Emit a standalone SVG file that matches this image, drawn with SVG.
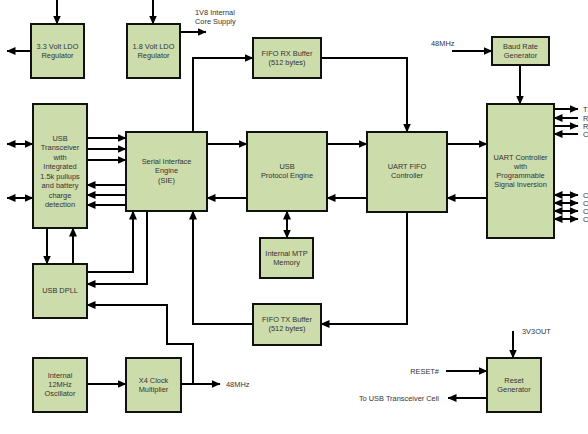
<svg xmlns="http://www.w3.org/2000/svg" width="588" height="434" viewBox="0 0 588 434">
<defs>
<marker id="ah" markerUnits="userSpaceOnUse" markerWidth="9" markerHeight="9" viewBox="0 0 9 9" refX="8.5" refY="4.5" orient="auto-start-reverse">
<path d="M0,0.5 L9,4.5 L0,8.5 z" fill="#000"/>
</marker>
<style>
.b{fill:#cddcab;stroke:#111;stroke-width:2}
.t{font-family:"Liberation Sans",Arial,sans-serif;font-size:7.4px;fill:#333;text-anchor:middle}
.l{font-family:"Liberation Sans",Arial,sans-serif;font-size:7.4px;fill:#333}
.c{fill:none;stroke:#000;stroke-width:2}
.a{marker-end:url(#ah)}
.d{marker-start:url(#ah);marker-end:url(#ah)}
</style>
</defs>
<rect width="588" height="434" fill="#fff"/>
<g id="connectors">
<path class="c a" d="M57,0 V24"/>
<path class="c a" d="M31,51 H7"/>
<path class="c a" d="M153,0 V24"/>
<path class="c a" d="M180,32 H206"/>
<path class="c a" d="M193,132 V58 H253"/>
<path class="c a" d="M321,58 H407 V132"/>
<path class="c a" d="M452,51 H492"/>
<path class="c a" d="M520,65 V104"/>
<path class="c d" d="M7,144 H33"/>
<path class="c d" d="M7,198 H33"/>
<path class="c a" d="M87,138 H126"/>
<path class="c a" d="M87,149 H126"/>
<path class="c a" d="M87,160 H126"/>
<path class="c a" d="M126,185 H87"/>
<path class="c a" d="M126,195 H87"/>
<path class="c a" d="M126,205 H87"/>
<path class="c a" d="M207,144 H247"/>
<path class="c a" d="M247,198 H207"/>
<path class="c a" d="M327,144 H367"/>
<path class="c a" d="M367,198 H327"/>
<path class="c d" d="M287,211 V238"/>
<path class="c a" d="M447,144 H487"/>
<path class="c a" d="M487,198 H447"/>
<path class="c a" d="M554,109 H578"/>
<path class="c a" d="M578,118 H554"/>
<path class="c a" d="M554,126 H578"/>
<path class="c a" d="M578,134 H554"/>
<path class="c d" d="M554,195 H578"/>
<path class="c d" d="M554,203 H578"/>
<path class="c d" d="M554,211 H578"/>
<path class="c d" d="M554,219 H578"/>
<path class="c a" d="M47,228 V264"/>
<path class="c a" d="M73,264 V228"/>
<path class="c a" d="M87,272 H133 V211"/>
<path class="c a" d="M147,211 V284 H87"/>
<path class="c a" d="M193,384 V344 H167 V305 H87"/>
<path class="c a" d="M253,324 H193 V211"/>
<path class="c a" d="M407,212 V324 H321"/>
<path class="c a" d="M87,384 H126"/>
<path class="c a" d="M181,384 H220"/>
<path class="c a" d="M513,331 V358"/>
<path class="c a" d="M446,371 H487"/>
<path class="c a" d="M487,398 H448"/>
</g>
<g id="ldo33"><rect class="b" x="31" y="24" width="53" height="54"/><text class="t" x="57.5" y="49">3.3 Volt LDO</text><text class="t" x="57.5" y="58">Regulator</text></g>
<g id="ldo18"><rect class="b" x="127" y="24" width="53" height="54"/><text class="t" x="153.5" y="49">1.8 Volt LDO</text><text class="t" x="153.5" y="58">Regulator</text></g>
<g id="core"><text class="l" x="195" y="15">1V8 Internal</text><text class="l" x="195" y="24">Core Supply</text></g>
<g id="fiforx"><rect class="b" x="253" y="38" width="68" height="40"/><text class="t" x="287" y="56">FIFO RX Buffer</text><text class="t" x="287" y="65">(512 bytes)</text></g>
<g id="baud"><rect class="b" x="492" y="37" width="57" height="28"/><text class="t" x="520.5" y="49">Baud Rate</text><text class="t" x="520.5" y="58">Generator</text></g>
<g id="clk48a"><text class="l" x="431" y="46">48MHz</text></g>
<g id="transceiver"><rect class="b" x="33" y="104" width="54" height="124"/>
<text class="t" x="60" y="140.5">USB</text><text class="t" x="60" y="150">Transceiver</text><text class="t" x="60" y="159.5">with</text><text class="t" x="60" y="169">Integrated</text><text class="t" x="60" y="178.5">1.5k pullups</text><text class="t" x="60" y="188">and battery</text><text class="t" x="60" y="197.5">charge</text><text class="t" x="60" y="207">detection</text></g>
<g id="sie"><rect class="b" x="126" y="132" width="81" height="79"/><text class="t" x="166.5" y="164">Serial Interface</text><text class="t" x="166.5" y="173">Engine</text><text class="t" x="166.5" y="183">(SIE)</text></g>
<g id="pe"><rect class="b" x="247" y="132" width="80" height="79"/><text class="t" x="287" y="169">USB</text><text class="t" x="287" y="178">Protocol Engine</text></g>
<g id="mtp"><rect class="b" x="260" y="238" width="53" height="40"/><text class="t" x="286.5" y="256">Internal MTP</text><text class="t" x="286.5" y="265">Memory</text></g>
<g id="uartfifo"><rect class="b" x="367" y="132" width="80" height="80"/><text class="t" x="407" y="169">UART FIFO</text><text class="t" x="407" y="178">Controller</text></g>
<g id="uart"><rect class="b" x="487" y="104" width="67" height="134"/><text class="t" x="520.5" y="160">UART Controller</text><text class="t" x="520.5" y="169">with</text><text class="t" x="520.5" y="178">Programmable</text><text class="t" x="520.5" y="187">Signal Inversion</text></g>
<g id="pins"><text class="l" x="583" y="112">TXD</text><text class="l" x="583" y="120.5">RXD</text><text class="l" x="583" y="129">RTS#</text><text class="l" x="583" y="137">CTS#</text>
<text class="l" x="583" y="198">CBUS0</text><text class="l" x="583" y="206">CBUS1</text><text class="l" x="583" y="214">CBUS2</text><text class="l" x="583" y="222">CBUS3</text></g>
<g id="dpll"><rect class="b" x="33" y="264" width="54" height="54"/><text class="t" x="60" y="293">USB DPLL</text></g>
<g id="fifotx"><rect class="b" x="253" y="304" width="68" height="41"/><text class="t" x="287" y="322">FIFO TX Buffer</text><text class="t" x="287" y="331">(512 bytes)</text></g>
<g id="osc"><rect class="b" x="33" y="358" width="54" height="54"/><text class="t" x="60" y="378">Internal</text><text class="t" x="60" y="387">12MHz</text><text class="t" x="60" y="396">Oscillator</text></g>
<g id="x4"><rect class="b" x="126" y="358" width="55" height="54"/><text class="t" x="153.5" y="383">X4 Clock</text><text class="t" x="153.5" y="392">Multiplier</text></g>
<g id="clk48b"><text class="l" x="226" y="387">48MHz</text></g>
<g id="reset"><rect class="b" x="487" y="358" width="54" height="54"/><text class="t" x="514" y="383">Reset</text><text class="t" x="514" y="392">Generator</text></g>
<g id="resetlabels"><text class="l" x="522" y="334">3V3OUT</text><text class="l" x="439" y="374" text-anchor="end">RESET#</text><text class="l" x="439" y="401" text-anchor="end">To USB Transceiver Cell</text></g>
</svg>
